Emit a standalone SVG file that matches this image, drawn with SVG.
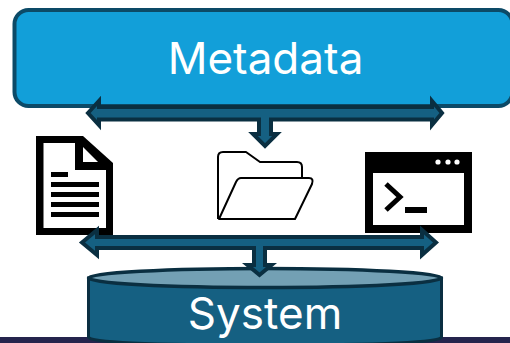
<svg xmlns="http://www.w3.org/2000/svg" width="510" height="343" viewBox="0 0 510 343">
<style>
.lbl{font-family:Inter,"Liberation Sans",sans-serif;font-size:44px;fill:#fff;text-anchor:middle}
.conn{fill:#156082;stroke:#0a2f41;stroke-width:4;stroke-linejoin:miter}
.ic{fill:#000}
.wh{fill:#fff}
.fld{fill:#fff;stroke:#000;stroke-width:2;stroke-linejoin:round}
</style>
<rect width="510" height="343" fill="#fff"/>
<rect id="footer-bar" x="0" y="337" width="510" height="6" fill="#25244d"/>
<g id="metadata">
<rect x="14.500" y="10" width="498" height="96" rx="14" fill="#129fd9" stroke="#0c4a67" stroke-width="4"/>
<text class="lbl" x="265.500" y="74">Metadata</text>
</g>
<g id="document">
<path class="ic" d="M36,136H83L113,163V235H36Z"/>
<path class="wh" d="M43.500,143H75V170H106V228H43.500Z"/>
<path class="wh" d="M83,147V162H98Z"/>
<path class="ic" d="M51,172h17v5H51ZM51,182h48v5H51ZM51,192h48v5H51ZM51,202h48v5H51ZM51,212h48v5H51Z"/>
</g>
<g id="folder">
<path class="fld" d="M218,219V157Q218,152 223,152H246L260,162H297Q302,162 302,167V179"/>
<path class="fld" d="M219,219L236,182Q238,178 241,178H309Q314,178 312,184L295,219Z"/>
</g>
<g id="terminal">
<rect class="ic" x="365" y="152" width="107" height="81"/>
<rect class="wh" x="373" y="173" width="91" height="52"/>
<circle class="wh" cx="438" cy="162" r="2.600"/><circle class="wh" cx="448" cy="162" r="2.600"/><circle class="wh" cx="457" cy="162" r="2.600"/>
<path d="M386,184L400,197L386,210" fill="none" stroke="#000" stroke-width="5"/>
<rect class="ic" x="405" y="207" width="22" height="6"/>
</g>
<g id="system">
<path d="M88.500,278V337Q88.500,345 265,345Q441.500,345 441.500,337V278Z" fill="#156082" stroke="#0a2f41" stroke-width="3"/>
<ellipse cx="265" cy="278" rx="176.500" ry="9.500" fill="#73a0b4" stroke="#0a2f41" stroke-width="3.600"/>
<text class="lbl" x="265" y="329">System</text>
</g>
<g id="connectors">
<path class="conn" d="M88,113L99,101V107H432V101L442,113L432,125V119.500H271V134H277L265,146L253,134H259V119.500H99V125Z"/>
<path class="conn" d="M82,242.500L97,230V237H422V230L436,242.500L422,255V248H265V265H271.500L259.500,275L247.500,265H254V248H97V255Z"/>
</g>
</svg>
